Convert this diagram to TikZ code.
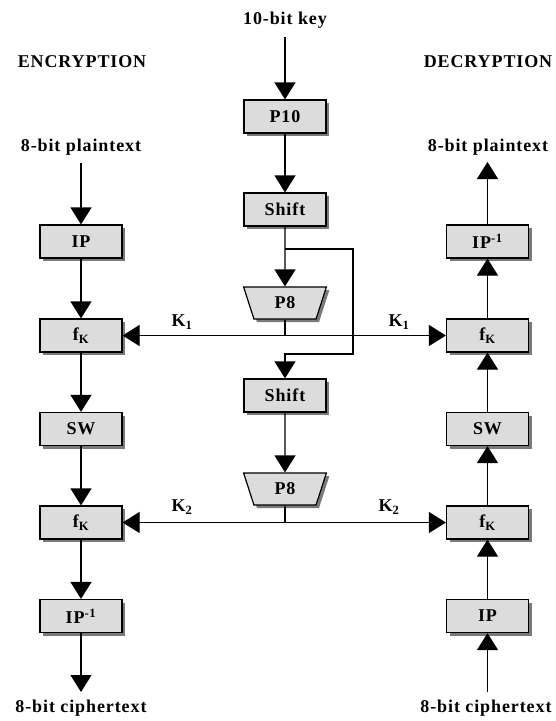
\documentclass[tikz,border=0pt]{standalone}
\usepackage{xcolor}
\usepackage{fontspec}
\usepackage{tikz}
\usetikzlibrary{arrows.meta,shapes.geometric,shadows}
\newfontfamily\sdesfont{Liberation Serif}[LetterSpace=5]
\definecolor{sdesFill}{HTML}{DCDCDC}
\definecolor{sdesShade}{HTML}{7A7A7A}

\begin{document}
\begin{tikzpicture}[x=1pt, y=-1pt, line join=miter,
  font=\sdesfont\fontsize{18}{20}\selectfont\bfseries,
  blk/.style={draw, line width=1.2pt, fill=sdesFill, minimum width=82pt, minimum height=33pt, inner sep=0pt,
    drop shadow={shadow xshift=3pt, shadow yshift=-3pt, fill=sdesShade, opacity=1}},
  perm/.style={blk, trapezium, shape border rotate=180, trapezium angle=74, trapezium stretches=true,
    minimum width=83pt, minimum height=32pt},
  arr/.style={line width=1.2pt, -{Triangle[length=17pt,width=21pt]}},
  wire/.style={line width=1.2pt}]
  \useasboundingbox (0,0) rectangle (556,721);

  % headings and outer texts
  \node (encTitle) at (82,62) {ENCRYPTION};
  \node (decTitle) at (488,62) {DECRYPTION};
  \node (keyText) at (285,20) {10-bit key};
  \node (encPlain) at (81,147) {8-bit plaintext};
  \node (decPlain) at (488,147) {8-bit plaintext};
  \node (encCipher) at (81,708) {8-bit ciphertext};
  \node (decCipher) at (486,708) {8-bit ciphertext};

  % key generation
  \node[blk] (kP10) at (285,116.5) {P10};
  \node[blk] (kShiftA) at (285,209.5) {Shift};
  \node[perm] (kPEightA) at (285,303) {P8};
  \node[blk] (kShiftB) at (285,395.5) {Shift};
  \node[perm] (kPEightB) at (285,489) {P8};

  % encryption (left) and decryption (right)
  \foreach \y/\n/\ltxt/\rtxt in {241.5/1/IP/{IP\textsuperscript{-1}}, 335.5/2/{f\textsubscript{K}}/{f\textsubscript{K}},
      429/3/SW/SW, 522.5/4/{f\textsubscript{K}}/{f\textsubscript{K}}, 616/5/{IP\textsuperscript{-1}}/IP}{%
    \node[blk] (e\n) at (81,\y) {\ltxt};
    \node[blk] (d\n) at (487.5,\y) {\rtxt};
  }
  \foreach \a/\b in {1/2, 2/3, 3/4, 4/5}{%
    \draw[arr] (e\a) -- (e\b);
    \draw[arr] (d\b) -- (d\a);
  }

  \coordinate (keyTail) at (285,37);
  \coordinate (encTail) at (81,163);
  \coordinate (encOut) at (81,692);
  \coordinate (decTail) at (487.5,692);
  \coordinate (decOut) at (487.5,162);
  \coordinate (split) at (285,249);
  \coordinate (loop) at (353,354);

  \draw[arr] (encTail) -- (e1);
  \draw[arr] (e5) -- (encOut);
  \draw[arr] (decTail) -- (d5);
  \draw[arr] (d1) -- (decOut);

  \draw[arr] (keyTail) -- (kP10);
  \draw[arr] (kP10) -- (kShiftA);
  \draw[arr] (kShiftA) -- (kPEightA);
  \draw[arr] (split) -| (loop) -| (kShiftB.north);
  \draw[arr] (kShiftB) -- (kPEightB);

  % subkeys
  \draw[arr] (kPEightA.south) |- (e2.east);
  \draw[arr] (kPEightA.south) |- (d2.west);
  \draw[arr] (kPEightB.south) |- (e4.east);
  \draw[arr] (kPEightB.south) |- (d4.west);
  \node (kOneL) at (182,322) {K\textsubscript{1}};
  \node (kOneR) at (399,322) {K\textsubscript{1}};
  \node (kTwoL) at (182,507) {K\textsubscript{2}};
  \node (kTwoR) at (389,507) {K\textsubscript{2}};
\end{tikzpicture}
\end{document}
